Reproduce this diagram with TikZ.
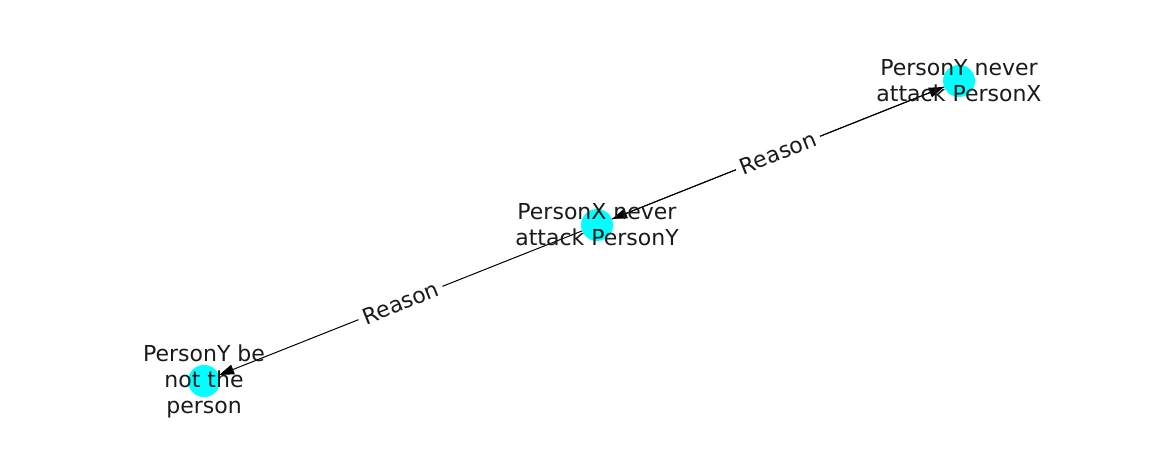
\documentclass[tikz,border=0pt]{standalone}
\usepackage{fontspec}
\setmainfont{DejaVu Sans}
\definecolor{nd}{HTML}{00FFFF}
\definecolor{tx}{HTML}{1A1A1A}
\usetikzlibrary{
  arrows.meta     % triangle tips of the edges
}
\tikzset{
    x=1pt, y=1pt,
    entity/.style = {
        circle,
        fill = nd,
        draw = none,
        minimum size = 32pt,
        inner sep = 0pt
    },
    caption/.style = {
        align = center,
        text = tx,
        inner sep = 0pt,
        font = \fontsize{22}{26}\selectfont
    },
    rel/.style = {
        draw,
        line width = 1pt,
        -{Triangle[length=15pt, width=10pt]}
    },
    rellabel/.style = {
        fill = white,
        text = tx,
        sloped,
        inner sep = 5pt,
        font = \fontsize{22}{26}\selectfont
    }
}

\begin{document}
\begin{tikzpicture}

  \useasboundingbox (0,0) rectangle (1162,462);

  %% nodes
  \node [entity] (PYNA) at (959,381) {};
  \node [entity] (PXNA) at (597,237) {};
  \node [entity] (PYBP) at (204,81) {};

  %% edges
  \draw [rel] (PXNA) to (PYNA);
  \draw [rel] (PYNA) to node [rellabel, midway] (R1) {Reason} (PXNA);
  \draw [rel] (PXNA) to node [rellabel, midway] (R2) {Reason} (PYBP);

  %% texts
  \node [caption] (PYNAtext) at (PYNA) {PersonY never\\attack PersonX};
  \node [caption] (PXNAtext) at (PXNA) {PersonX never\\attack PersonY};
  \node [caption] (PYBPtext) at (PYBP) {PersonY be\\not the\\person};

\end{tikzpicture}
\end{document}
